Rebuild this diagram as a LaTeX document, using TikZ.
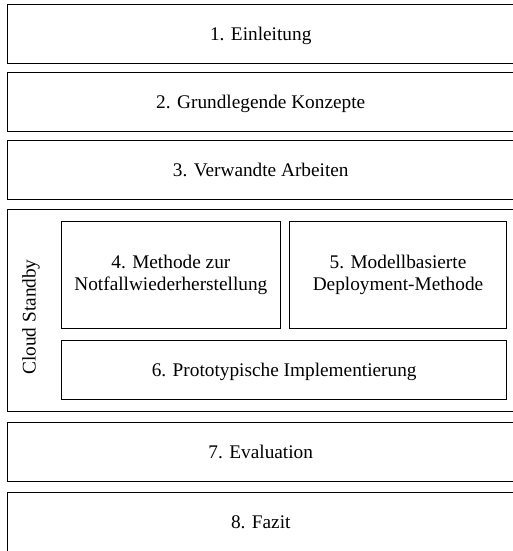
\documentclass[tikz,border=0pt]{standalone}
\usepackage{fontspec}
\setmainfont{Liberation Serif}
\begin{document}
\begin{tikzpicture}[x=1pt,y=-1pt,
  box/.style={draw, line width=1pt, inner sep=0pt, outer sep=0pt, align=center,
    font=\fontsize{19.3}{22.5}\selectfont},
  onebox/.style={box, text height=13.1pt, text depth=0pt},
  lbl/.style={inner sep=0pt, font=\fontsize{19.3}{22.5}\selectfont}]
\useasboundingbox (0,0) rectangle (513,551);
\node[onebox, minimum width=506.5pt, minimum height=58.7pt] (b1) at (260.75,34.35) {1. Einleitung};
\node[onebox, minimum width=506.5pt, minimum height=59.4pt] (b2) at (260.75,102) {2. Grundlegende Konzepte};
\node[onebox, minimum width=506.5pt, minimum height=59.5pt] (b3) at (260.75,170) {3. Verwandte Arbeiten};
\node[box, minimum width=506.5pt, minimum height=202pt] (cs) at (260.75,310) {};
\node[lbl, rotate=90] (csl) at (31,317) {Cloud Standby};
\node[box, minimum width=218.3pt, minimum height=106.3pt] (b4) at (170.85,274.85) {4. Methode zur\\Notfallwiederherstellung};
\node[box, minimum width=217.4pt, minimum height=106.3pt] (b5) at (398,274.85) {5. Modellbasierte\\Deployment-Methode};
\node[onebox, minimum width=445pt, minimum height=59pt] (b6) at (284.2,369.5) {6. Prototypische Implementierung};
\node[onebox, minimum width=506.5pt, minimum height=59pt] (b7) at (260.75,451.5) {7. Evaluation};
\node[onebox, minimum width=506.5pt, minimum height=59.5pt] (b8) at (260.75,521.75) {8. Fazit};
\end{tikzpicture}
\end{document}
